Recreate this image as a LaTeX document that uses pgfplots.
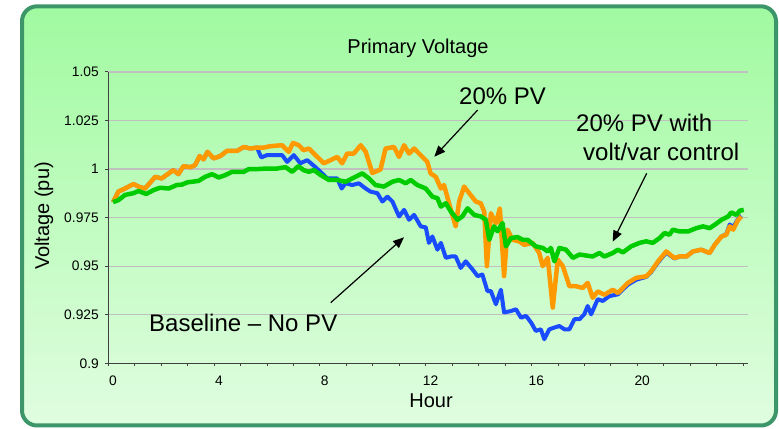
\documentclass[border=0pt]{standalone}
\usepackage{fontspec}
\setmainfont{Liberation Sans}
\usepackage{pgfplots}
\usepackage{pgfplotstable}
\pgfplotsset{compat=1.18}
\usetikzlibrary{arrows.meta}
\definecolor{bgtop}{RGB}{160,250,160}
\definecolor{bgbot}{RGB}{224,253,224}
\definecolor{framec}{RGB}{60,150,105}
\definecolor{pvblue}{RGB}{25,75,255}
\definecolor{pvorange}{RGB}{255,153,0}
\definecolor{pvgreen}{RGB}{0,204,0}
\definecolor{gridc}{RGB}{192,192,192}

\pgfplotstableread{
h v
0 0.983
0.2 0.9884
0.45 0.990
0.77 0.9923
0.96 0.991
1.21 0.990
1.59 0.996
1.84 0.9952
2.28 0.9995
2.47 0.9974
2.66 1.0015
2.92 1.001
3.1 1.002
3.27 1.0067
3.42 1.005
3.57 1.0089
3.8 1.0055
4.05 1.0067
4.31 1.0094
4.69 1.0094
4.94 1.0114
5.19 1.0106
5.44 1.0111
5.6 1.006
5.82 1.0072
6.2 1.0072
6.39 1.0072
6.58 1.0037
6.83 1.0072
7.08 1.003
7.34 1.0046
7.65 1.001
7.9 0.9978
8.09 0.9952
8.28 0.9952
8.47 0.9952
8.64 0.990
8.79 0.9927
9.04 0.9918
9.29 0.9927
9.55 0.990
9.73 0.9884
9.99 0.9876
10.18 0.9833
10.37 0.9858
10.56 0.9833
10.81 0.9756
11.0 0.979
11.19 0.9739
11.38 0.9764
11.63 0.9705
11.82 0.970
11.94 0.962
12.07 0.9653
12.26 0.9585
12.39 0.962
12.58 0.9543
12.77 0.955
12.95 0.955
13.14 0.9491
13.33 0.9525
13.59 0.9483
13.78 0.9449
13.96 0.9457
14.15 0.9372
14.28 0.9372
14.47 0.9304
14.66 0.9379
14.78 0.9262
15.04 0.9269
15.23 0.9278
15.42 0.9235
15.61 0.9244
15.8 0.921
15.98 0.9167
16.17 0.9175
16.3 0.9124
16.49 0.9175
16.68 0.9184
16.87 0.9192
17.06 0.9175
17.25 0.9175
17.44 0.9227
17.63 0.9227
17.81 0.9252
17.94 0.9295
18.07 0.9252
18.32 0.933
18.51 0.9321
18.76 0.9346
19.08 0.9355
19.46 0.9405
19.77 0.943
20.15 0.9445
20.34 0.947
20.6 0.952
20.91 0.957
21.22 0.954
21.41 0.955
21.67 0.955
21.92 0.9576
22.23 0.9585
22.55 0.9568
22.74 0.961
23.0 0.9653
23.18 0.9665
23.31 0.9715
23.44 0.970
23.63 0.9745
23.75 0.976
}\baseline

\pgfplotstableread{
h v
0 0.983
0.2 0.9884
0.45 0.990
0.77 0.9923
0.96 0.991
1.21 0.990
1.59 0.996
1.84 0.9952
2.28 0.9995
2.47 0.9974
2.66 1.0015
2.92 1.001
3.1 1.002
3.27 1.0067
3.42 1.005
3.57 1.0089
3.8 1.0055
4.05 1.0067
4.31 1.0094
4.69 1.0094
4.94 1.0114
5.19 1.0106
5.44 1.0111
5.69 1.0111
5.95 1.0118
6.39 1.0123
6.64 1.0089
6.8 1.0135
7.02 1.0123
7.2 1.0097
7.4 1.0106
7.65 1.0072
7.97 1.003
8.22 1.0046
8.47 1.0063
8.66 1.003
8.85 1.008
9.1 1.008
9.36 1.0123
9.55 1.0089
9.8 0.998
10.11 0.9998
10.3 1.0106
10.62 1.0114
10.81 1.0063
11.0 1.0123
11.19 1.008
11.38 1.0106
11.69 1.0063
11.88 1.0037
12.0 0.9978
12.2 0.996
12.39 0.990
12.51 0.9918
12.7 0.9824
12.95 0.9705
13.08 0.9833
13.27 0.991
13.46 0.9876
13.71 0.9833
13.9 0.9824
14.03 0.978
14.13 0.950
14.28 0.9773
14.47 0.972
14.62 0.9798
14.78 0.9449
14.91 0.9688
15.1 0.9636
15.35 0.9628
15.54 0.961
15.86 0.962
16.11 0.9568
16.24 0.950
16.43 0.9543
16.62 0.9287
16.81 0.9534
17.0 0.950
17.25 0.9397
17.5 0.9397
17.75 0.9388
17.94 0.9414
18.13 0.9337
18.32 0.937
18.57 0.9353
18.89 0.9379
19.08 0.9362
19.46 0.9414
19.77 0.944
20.15 0.9448
20.34 0.9474
20.6 0.9525
20.91 0.9576
21.22 0.9542
21.41 0.955
21.67 0.955
21.92 0.9576
22.23 0.9585
22.55 0.9568
22.74 0.961
23.0 0.9653
23.18 0.9662
23.31 0.9705
23.44 0.9688
23.63 0.9739
23.75 0.9756
}\pvonly

\pgfplotstableread{
h v
0 0.983
0.2 0.984
0.45 0.9867
0.77 0.9876
0.96 0.9887
1.25 0.9872
1.53 0.9892
1.78 0.9904
2.1 0.990
2.41 0.9918
2.6 0.992
2.82 0.9932
3.23 0.9939
3.48 0.996
3.74 0.9974
3.99 0.9957
4.24 0.9969
4.5 0.9986
4.94 0.9986
5.13 1.0
5.44 1.0
5.82 1.0003
6.2 1.0003
6.52 1.001
6.77 0.9986
7.0 1.0015
7.2 0.9995
7.4 0.9986
7.59 0.9995
7.84 0.997
8.16 0.9944
8.47 0.9944
8.79 0.9935
9.04 0.9952
9.42 0.9978
9.67 0.9952
9.92 0.9918
10.24 0.991
10.56 0.9935
10.81 0.9944
11.06 0.9927
11.25 0.9944
11.5 0.9918
11.82 0.990
12.07 0.9858
12.26 0.985
12.39 0.9807
12.58 0.9824
12.77 0.9781
13.02 0.9739
13.2 0.9756
13.4 0.9798
13.65 0.9764
13.9 0.9756
14.09 0.9739
14.22 0.9636
14.4 0.9705
14.53 0.968
14.72 0.9722
14.85 0.9602
15.04 0.9645
15.29 0.965
15.48 0.9636
15.67 0.9636
15.98 0.9602
16.24 0.9594
16.43 0.9576
16.55 0.9594
16.68 0.9525
16.87 0.9594
17.12 0.9585
17.38 0.9543
17.63 0.956
17.88 0.9555
18.13 0.955
18.38 0.9568
18.57 0.955
18.89 0.9568
19.08 0.9585
19.27 0.9571
19.58 0.9602
19.9 0.962
20.15 0.9628
20.4 0.962
20.66 0.9645
20.85 0.9671
21.03 0.9662
21.16 0.9688
21.41 0.9679
21.73 0.9679
22.05 0.9696
22.3 0.9705
22.55 0.9696
22.74 0.9713
23.0 0.9739
23.25 0.9756
23.37 0.9777
23.56 0.9764
23.69 0.9786
23.84 0.979
}\voltvar

\begin{document}
\begin{tikzpicture}
\useasboundingbox (0bp,0bp) rectangle (779bp,429bp);
\draw[line width=4bp, draw=framec, top color=bgtop, bottom color=bgbot, rounded corners=15bp]
  (22bp,3.5bp) rectangle (776bp,422.7bp);
\begin{axis}[
  at={(108.3bp,65.7bp)}, anchor=south west,
  scale only axis, width=639.7bp, height=291.3bp,
  xmin=-0.18, xmax=24, ymin=0.9, ymax=1.05,
  axis lines*=left,
  axis line style={color=black!75, line width=1.2bp},
  xtick={0,4,8,12,16,20}, xticklabels={0,4,8,12,16,20},
  major x tick style={draw=none},
  minor xtick={-0.18,0.82,1.82,2.82,3.82,4.82,5.82,6.82,7.82,8.82,9.82,10.82,11.82,12.82,13.82,14.82,15.82,16.82,17.82,18.82,19.82,20.82,21.82,22.82,23.82},
  ytick={0.9,0.925,0.95,0.975,1,1.025,1.05},
  yticklabels={0.9,0.925,0.95,0.975,1,1.025,1.05},
  tick align=outside, major tick length=3bp, minor tick length=3bp,
  tick style={color=black!75, line width=1bp},
  ymajorgrids, grid style={gridc, line width=1.2bp},
  tick label style={font=\fontsize{13.8bp}{16bp}\selectfont},
  xticklabel style={yshift=-6bp},
  yticklabel style={xshift=-3bp},
]
\addplot[pvblue, line width=4bp, line join=round] table[x=h,y=v] {\baseline};
\addplot[pvorange, line width=4.5bp, line join=round] table[x=h,y=v] {\pvonly};
\addplot[pvgreen, line width=4.5bp, line join=round] table[x=h,y=v] {\voltvar};
\end{axis}
\node[anchor=base, inner sep=0pt, font=\fontsize{20bp}{24bp}\selectfont] at (418bp,375bp) {Primary Voltage};
\node[anchor=center, rotate=90, inner sep=0pt, font=\fontsize{20bp}{24bp}\selectfont] at (44bp,213bp) {Voltage (pu)};
\node[anchor=base, inner sep=0pt, font=\fontsize{20bp}{24bp}\selectfont] at (431bp,22bp) {Hour};
\node[anchor=base west, inner sep=0pt, font=\fontsize{24bp}{29bp}\selectfont] at (459bp,324.7bp) {20\% PV};
\node[anchor=base west, inner sep=0pt, font=\fontsize{24bp}{29bp}\selectfont] at (576bp,297.3bp) {20\% PV with};
\node[anchor=base west, inner sep=0pt, font=\fontsize{24bp}{29bp}\selectfont] at (583bp,268.5bp) {volt/var control};
\node[anchor=base west, inner sep=0pt, font=\fontsize{24bp}{29bp}\selectfont] at (149bp,97.3bp) {Baseline – No PV};
\draw[line width=1.2bp, -{Triangle[length=11bp,width=9bp]}] (477.7bp,319bp) -- (434.3bp,272.3bp);
\draw[line width=1.2bp, -{Triangle[length=11bp,width=9bp]}] (646.7bp,255.7bp) -- (612.7bp,187.3bp);
\draw[line width=1.2bp, -{Triangle[length=11bp,width=9bp]}] (330.7bp,126.3bp) -- (404bp,191.7bp);
\end{tikzpicture}
\end{document}
